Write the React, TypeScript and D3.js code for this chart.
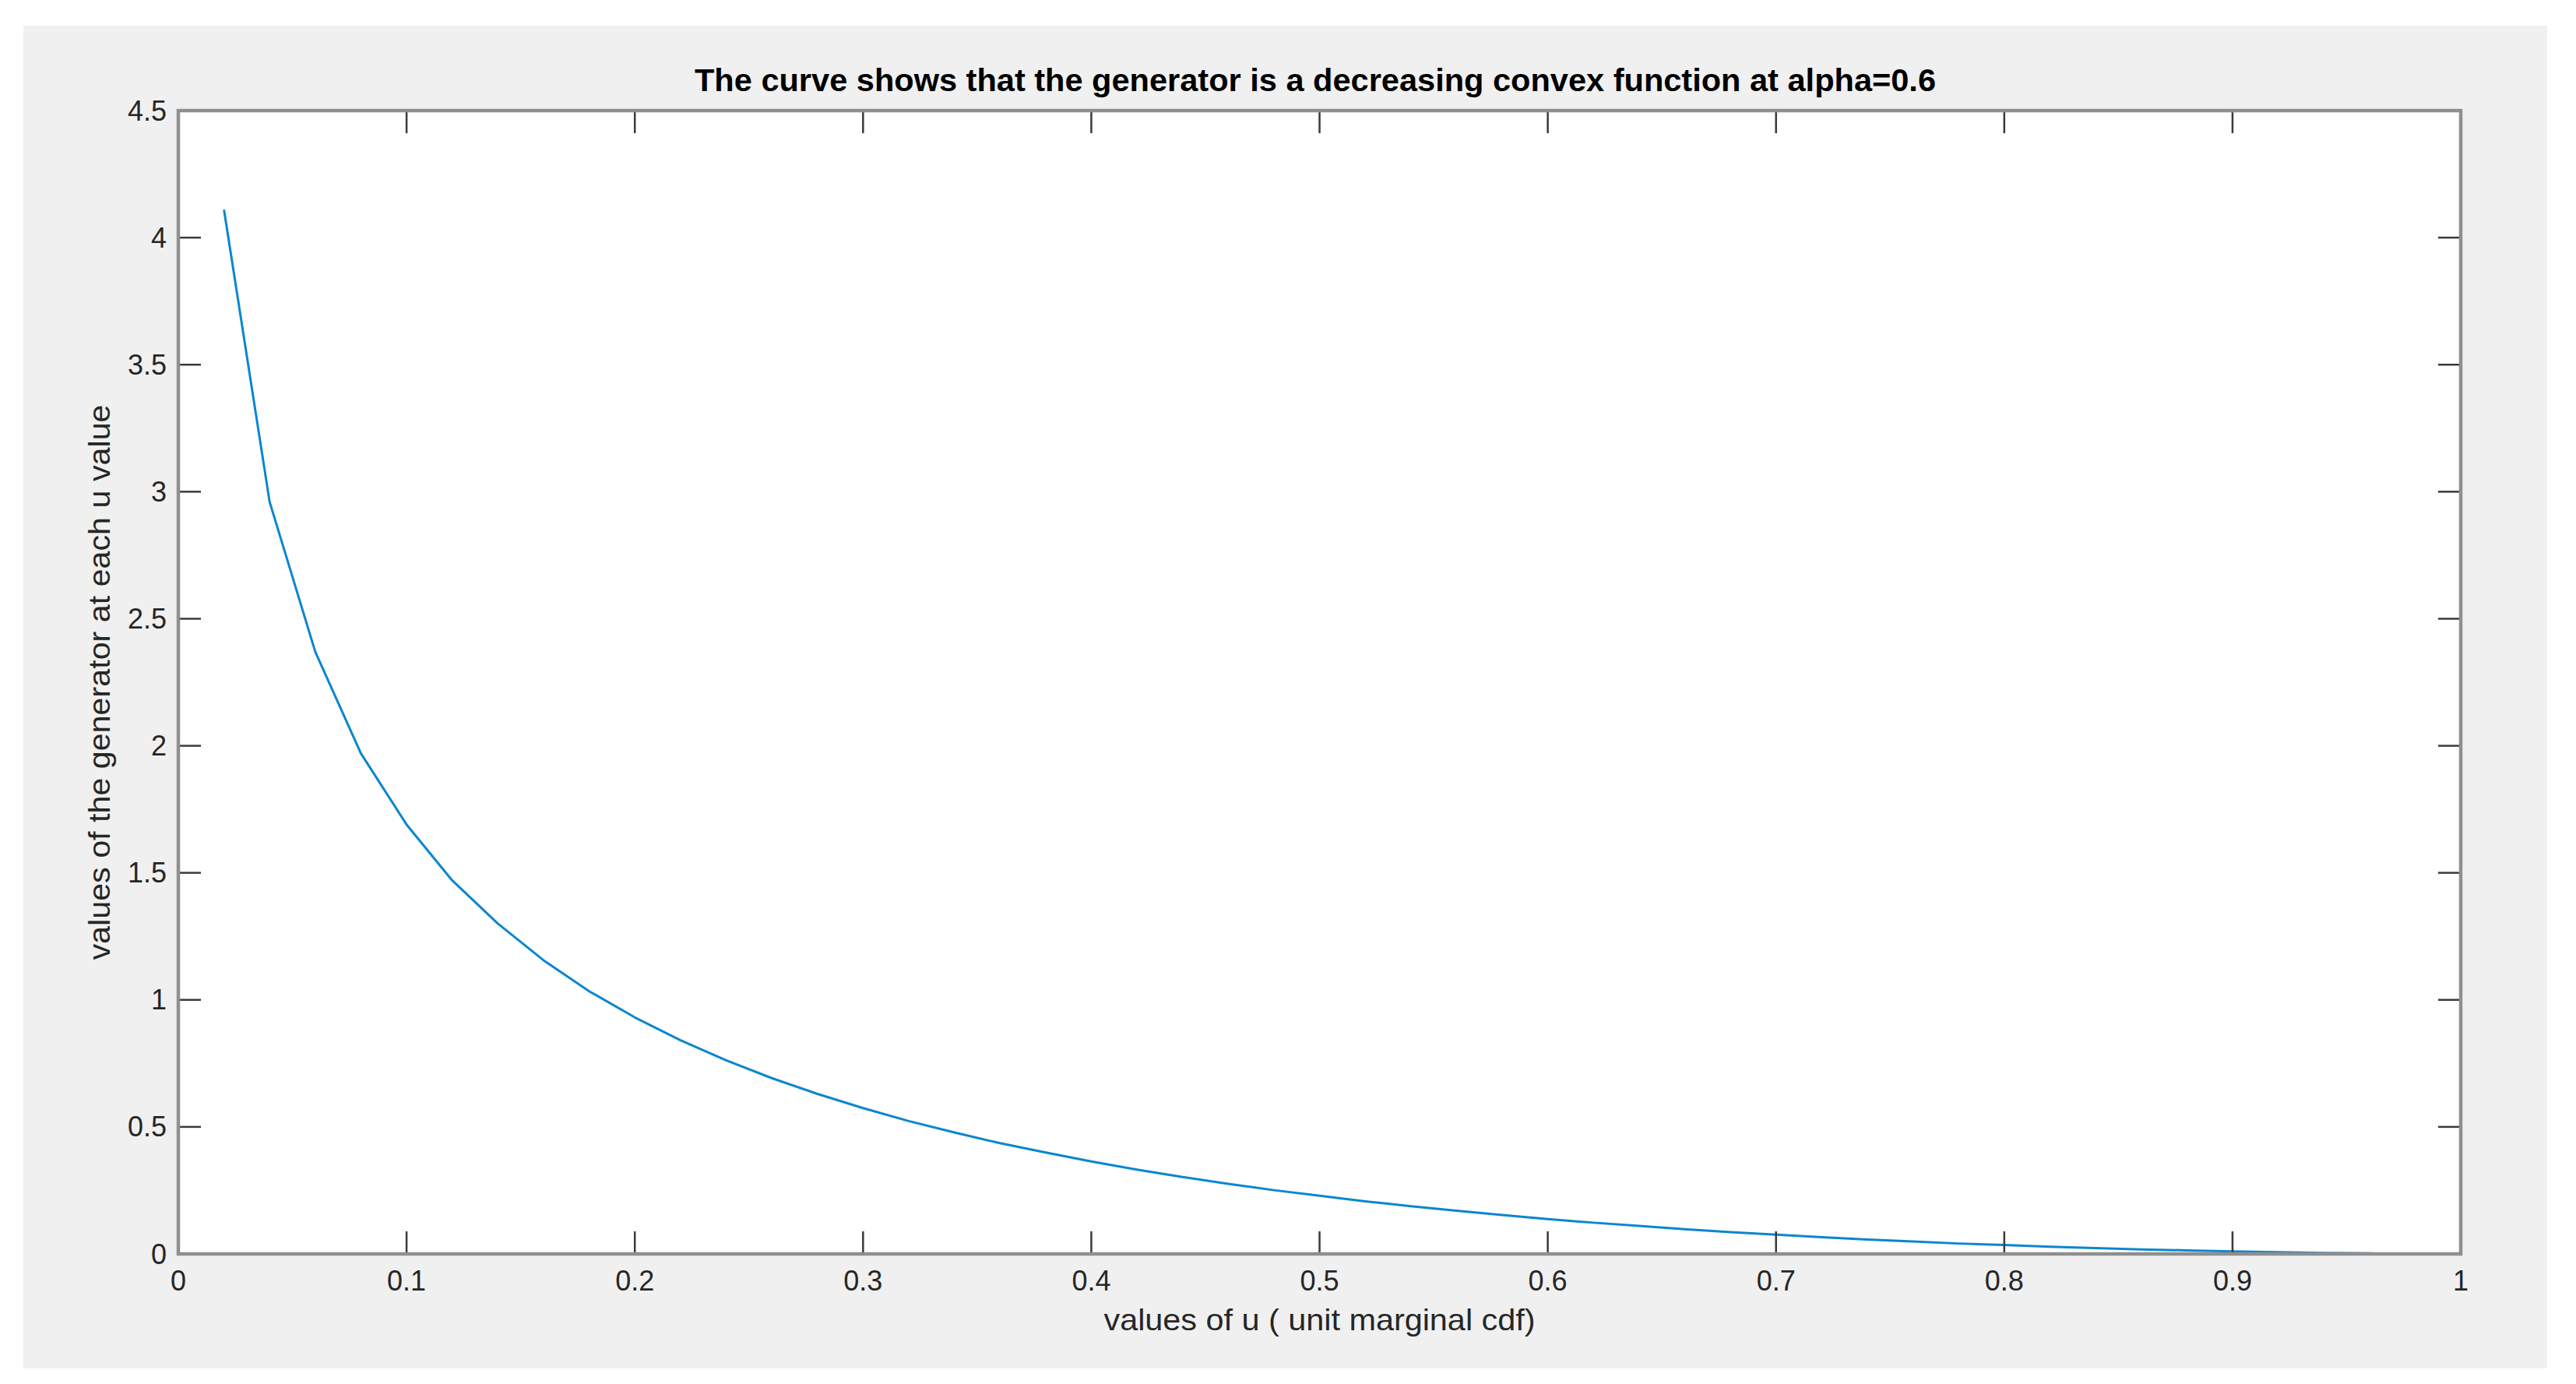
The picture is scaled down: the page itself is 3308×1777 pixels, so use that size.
import React from "react";
import * as d3 from "d3";

const title = "The curve shows that the generator is a decreasing convex function at alpha=0.6";
const xLabel = "values of u ( unit marginal cdf)";
const yLabel = "values of the generator at each u value";

const uValues = [
  0.02, 0.04, 0.06, 0.08, 0.1, 0.12, 0.14, 0.16, 0.18, 0.2,
  0.22, 0.24, 0.26, 0.28, 0.3, 0.32, 0.34, 0.36, 0.38, 0.4,
  0.42, 0.44, 0.46, 0.48, 0.5, 0.52, 0.54, 0.56, 0.58, 0.6,
  0.62, 0.64, 0.66, 0.68, 0.7, 0.72, 0.74, 0.76, 0.78, 0.8,
  0.82, 0.84, 0.86, 0.88, 0.9, 0.92, 0.94, 0.96, 0.98, 1.0,
];
const generatorValues = [
  4.11, 2.96, 2.37, 1.97, 1.69, 1.47, 1.3, 1.156, 1.034, 0.931,
  0.841, 0.762, 0.692, 0.63, 0.574, 0.523, 0.478, 0.436, 0.399, 0.364,
  0.332, 0.303, 0.276, 0.251, 0.229, 0.207, 0.188, 0.17, 0.153, 0.137,
  0.123, 0.11, 0.097, 0.086, 0.076, 0.066, 0.057, 0.049, 0.041, 0.035,
  0.028, 0.023, 0.018, 0.014, 0.01, 0.007, 0.004, 0.002, 0.0006, 0,
];
const xTicks = [0, 0.1, 0.2, 0.3, 0.4, 0.5, 0.6, 0.7, 0.8, 0.9, 1];
const yTicks = [0, 0.5, 1, 1.5, 2, 2.5, 3, 3.5, 4, 4.5];

export default function App() {
  const W = 3308, H = 1777;
  const left = 229, right = 3160, top = 142, bottom = 1610;
  const x = d3.scaleLinear().domain([0, 1]).range([left, right]);
  const y = d3.scaleLinear().domain([0, 4.5]).range([bottom, top]);
  const line = d3.line<number>().x((_, i) => x(uValues[i])).y((d) => y(d));
  const font = "'Liberation Sans', Arial, Helvetica, sans-serif";
  const tickLen = 29;
  const tickColor = "#3a3a3a";
  return (
    <svg width={W} height={H} style={{ position: "absolute", left: 0, top: 0, background: "#fff" }}>
      <rect x={0} y={0} width={W} height={H} fill="#ffffff" />
      <rect x={30} y={33} width={3241} height={1724} fill="#f0f0f0" />
      <rect x={left} y={top} width={right - left} height={bottom - top} fill="#ffffff" />
      <path d={line(generatorValues) || ""} fill="none" stroke="#0a86cf" strokeWidth={3} strokeLinejoin="round" />
      {xTicks.map((t) => (
        <g key={"xt" + t}>
          <line x1={x(t)} x2={x(t)} y1={bottom} y2={bottom - tickLen} stroke={tickColor} strokeWidth={2.5} />
          <line x1={x(t)} x2={x(t)} y1={top} y2={top + tickLen} stroke={tickColor} strokeWidth={2.5} />
          <text x={x(t)} y={1657} fontFamily={font} fontSize={36} fill="#262626" textAnchor="middle">{String(t)}</text>
        </g>
      ))}
      {yTicks.map((t) => (
        <g key={"yt" + t}>
          <line x1={left} x2={left + tickLen} y1={y(t)} y2={y(t)} stroke={tickColor} strokeWidth={2.5} />
          <line x1={right} x2={right - tickLen} y1={y(t)} y2={y(t)} stroke={tickColor} strokeWidth={2.5} />
          <text x={214} y={y(t)} dy="0.35em" fontFamily={font} fontSize={36} fill="#262626" textAnchor="end">{String(t)}</text>
        </g>
      ))}
      <rect x={left} y={top} width={right - left} height={bottom - top} fill="none" stroke="#8f8f8f" strokeWidth={4.5} />
      <text x={1689} y={117} fontFamily={font} fontSize={41} fontWeight="bold" fill="#000" textAnchor="middle" textLength={1594} lengthAdjust="spacingAndGlyphs">{title}</text>
      <text x={(left + right) / 2} y={1708} fontFamily={font} fontSize={39} fill="#262626" textAnchor="middle" textLength={554} lengthAdjust="spacingAndGlyphs">{xLabel}</text>
      <text transform={`translate(141,${(top + bottom) / 2}) rotate(-90)`} fontFamily={font} fontSize={39} fill="#262626" textAnchor="middle" textLength={713} lengthAdjust="spacingAndGlyphs">{yLabel}</text>
    </svg>
  );
}
